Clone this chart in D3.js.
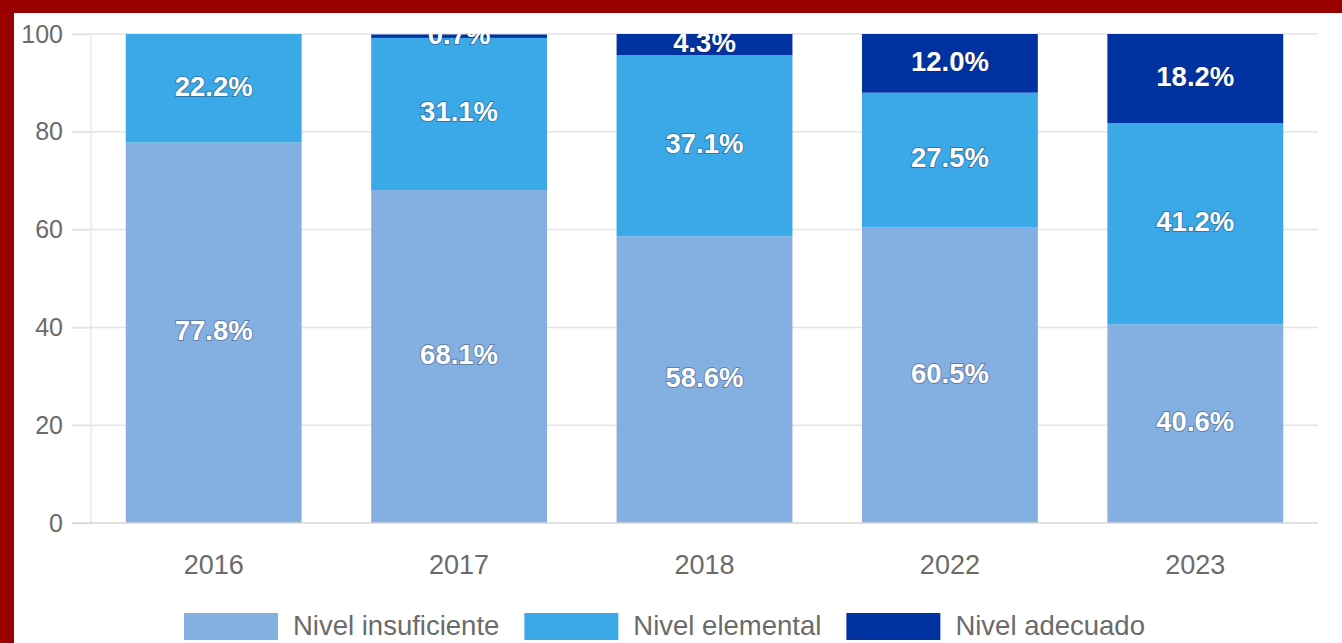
<!DOCTYPE html>
<html><head><meta charset="utf-8">
<script src="https://cdn.jsdelivr.net/npm/d3@7"></script>
<style>html,body{margin:0;padding:0;background:#fff;overflow:hidden}</style>
</head><body><svg id="c" width="1342" height="643"></svg>
<script>
const years = ["2016","2017","2018","2022","2023"];
const seriesNames = ["Nivel insuficiente","Nivel elemental","Nivel adecuado"];
const insuficiente = [77.8, 68.1, 58.6, 60.5, 40.6];
const elemental = [22.2, 31.1, 37.1, 27.5, 41.2];
const adecuado = [0, 0.7, 4.3, 12.0, 18.2];
const yTicks = [0, 20, 40, 60, 80, 100];
const colors = ["#84b0e1", "#3ba9e7", "#0033a1"];

(function(){
const svg = d3.select("#c");
svg.append("rect").attr("width",1342).attr("height",643).attr("fill","#9b0000");
svg.append("rect").attr("x",14).attr("y",13).attr("width",1328).attr("height",630).attr("fill","#fff");

const pL=91, pR=1318, pT=34, pB=523;
const x = d3.scaleBand().domain(years).range([pL,pR]).paddingInner(0.2834).paddingOuter(0.1417);
const y = d3.scaleLinear().domain([0,100]).range([pB,pT]);

// gridlines
svg.append("g").selectAll("line").data(yTicks.filter(t=>t>0)).join("line")
  .attr("x1",72).attr("x2",pR).attr("y1",d=>y(d)).attr("y2",d=>y(d))
  .attr("stroke","#e4e4e4").attr("stroke-width",1.5);
svg.append("line").attr("x1",pL).attr("x2",pL).attr("y1",pT).attr("y2",pB)
  .attr("stroke","#e8e8e8").attr("stroke-width",1.5);

// y axis
const yAxis = svg.append("g").attr("transform",`translate(${pL},0)`)
  .call(d3.axisLeft(y).tickValues(yTicks).tickSize(19).tickPadding(9));
yAxis.select(".domain").remove();
yAxis.selectAll(".tick line").attr("stroke","#e4e4e4").attr("stroke-width",1.5);
yAxis.selectAll("text").attr("fill","#6b6b6b").attr("font-family","Arial, 'Liberation Sans', sans-serif").attr("font-size",25);

// stack
const rows = years.map((yr,i)=>({year:yr, "Nivel insuficiente":insuficiente[i], "Nivel elemental":elemental[i], "Nivel adecuado":adecuado[i]}));
const stack = d3.stack().keys(seriesNames)(rows);

svg.append("defs").append("clipPath").attr("id","plotclip")
  .append("rect").attr("x",pL).attr("y",pT).attr("width",pR-pL).attr("height",pB-pT);

const g = svg.append("g").attr("clip-path","url(#plotclip)");
stack.forEach((s,si)=>{
  g.append("g").selectAll("rect").data(s).join("rect")
    .attr("x",d=>x(d.data.year)).attr("width",x.bandwidth())
    .attr("y",d=>y(d[1])).attr("height",d=>Math.max(0,y(d[0])-y(d[1])))
    .attr("fill",colors[si]);
});
// baseline
svg.append("line").attr("x1",72).attr("x2",pR).attr("y1",pB).attr("y2",pB)
  .attr("stroke","#d6d6d6").attr("stroke-width",1.5);

// labels
stack.forEach((s,si)=>{
  g.append("g").selectAll("text").data(s.filter(d=>d[1]-d[0]>0)).join("text")
    .attr("x",d=>x(d.data.year)+x.bandwidth()/2)
    .attr("y",d=>y((d[0]+d[1])/2)-2)
    .attr("text-anchor","middle").attr("dominant-baseline","central")
    .attr("font-family","Arial, 'Liberation Sans', sans-serif").attr("font-weight","bold").attr("font-size",27.5)
    .attr("fill","#fff").attr("stroke","rgba(20,30,70,0.35)").attr("stroke-width",2).attr("paint-order","stroke")
    .text(d=>(d[1]-d[0]).toFixed(1)+"%");
});

// x axis labels
svg.append("g").selectAll("text").data(years).join("text")
  .attr("x",d=>x(d)+x.bandwidth()/2).attr("y",574)
  .attr("text-anchor","middle").attr("fill","#6b6b6b")
  .attr("font-family","Arial, 'Liberation Sans', sans-serif").attr("font-size",27)
  .text(d=>d);

// legend
const lg = svg.append("g");
let lx = 184;
seriesNames.forEach((n,i)=>{
  lg.append("rect").attr("x",lx).attr("y",613).attr("width",94).attr("height",27).attr("fill",colors[i]);
  const t = lg.append("text").attr("x",lx+109).attr("y",635).attr("fill","#6b6b6b")
    .attr("font-family","Arial, 'Liberation Sans', sans-serif").attr("font-size",27.5).text(n);
  lx += 109 + t.node().getComputedTextLength() + 25;
});
})();
</script></body></html>
